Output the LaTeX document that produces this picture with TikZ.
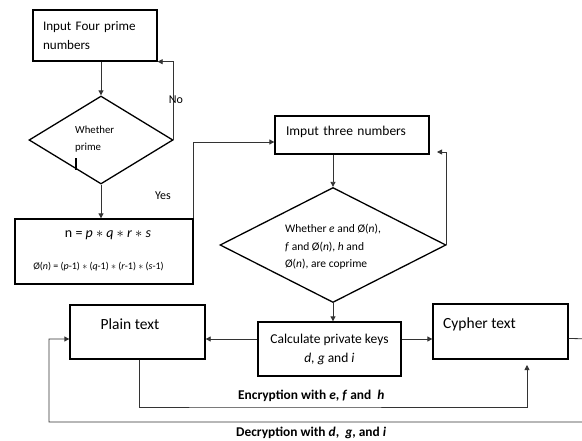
\documentclass[tikz,border=0pt]{standalone}
\usepackage{fontspec}
\setmainfont{Carlito}
\usetikzlibrary{arrows.meta}
\usetikzlibrary{shapes}
\usetikzlibrary{positioning}
\tikzstyle{process}=[rectangle,draw=black,line width=1.3pt,inner sep=0mm]
\tikzstyle{decision}=[diamond,draw=black,line width=1.3pt,inner sep=0mm]
\tikzstyle{flow}=[->,line width=0.8pt,draw=black!80]
\tikzstyle{note}=[inner sep=0mm,font=\fontsize{12}{17}\selectfont]
\tikzset{every picture/.style={
    line join=miter
  }
}

\begin{document}
\begin{tikzpicture}[x=1pt, y=-1pt, >={Triangle[length=5pt,width=5pt]}]
    \clip (0,0) rectangle (582,440);
    % top left: the four primes
    \node[process, minimum width=124pt, minimum height=51pt, text width=104pt, align=left,
          font=\fontsize{13.1}{19}\selectfont] at (95,35.5) (primes) {Input Four prime\\numbers};
    \node[decision, minimum width=144pt, minimum height=88pt] at (101,140) (isprime) {};
    \node[note, anchor=west, align=left, font=\fontsize{10.8}{17}\selectfont] at (75,139) (isprimetxt) {Whether\\prime};
    \draw[line width=1.3pt] (76,158) -- (76,170);
    \node[process, minimum width=178pt, minimum height=65pt] at (104,251.5) (nbox) {};
    \node[font=\fontsize{14}{16}\selectfont, inner sep=0mm] at (108,235) (ntxt) {n = \textit{p} $*$ \textit{q} $*$ \textit{r} $*$ \textit{s}};
    \node[font=\fontsize{10}{12}\selectfont, inner sep=0mm] at (98.5,267) (phitxt) {Ø(\textit{n}) = (\textit{p}-1) $*$ (\textit{q}-1) $*$ (\textit{r}-1) $*$ (\textit{s}-1)};
    \draw[flow] (isprime.north |- primes.south) -- (isprime.north);
    \draw[flow] (isprime.east) |- (primes.south east);
    \node[note] at (176,100) (no) {No};
    \draw[flow] (isprime.south) -- (isprime.south |- nbox.north);
    \node[note] at (163,196) (yes) {Yes};

    % right: the three numbers
    \node[process, minimum width=154pt, minimum height=38pt, text width=132pt, align=left,
          font=\fontsize{13.5}{16}\selectfont] at (352,135) (three) {Imput three numbers\vphantom{y}\\[-8pt]\mbox{}};
    \draw[flow] (nbox.north east) |- ([yshift=-7pt]three.west);
    \node[decision, minimum width=226pt, minimum height=115pt] at (333,245) (coprime) {};
    \node[note, align=left, font=\fontsize{11.5}{17.5}\selectfont] at (333,247) (coprimetxt) {Whether \textit{e} and Ø(\textit{n}),\\\textit{f} and Ø(\textit{n}), \textit{h} and\\Ø(\textit{n}), are coprime};
    \draw[flow] (coprime.north |- three.south) -- (coprime.north);
    \coordinate (back) at (437,152);
    \draw[flow] (coprime.east) |- (back);

    % bottom row
    \node[process, minimum width=143pt, minimum height=54pt, align=center,
          font=\fontsize{13.5}{19}\selectfont] at (329.5,349) (keys) {Calculate private keys\\\textit{d, g} and \textit{i}};
    \node[process, minimum width=135pt, minimum height=54pt] at (137.5,332) (plain) {};
    \node[font=\fontsize{15.5}{18}\selectfont, inner sep=0mm] at (130,324) (plaintxt) {Plain text};
    \node[process, minimum width=135pt, minimum height=55pt] at (500.5,331.5) (cypher) {};
    \node[font=\fontsize{15.5}{18}\selectfont, inner sep=0mm, anchor=west] at (443,324) (cyphertxt) {Cypher text};
    \draw[flow] (coprime.south) -- (coprime.south |- keys.north);
    \draw[flow] ([yshift=10pt]keys.west) -- ([yshift=10pt]keys.west -| plain.east);
    \draw[flow] ([yshift=10pt]keys.east) -- ([yshift=10pt]keys.east -| cypher.west);

    % encryption and decryption paths
    \coordinate (enc) at (527,365);
    \draw[flow] (plain.south -| 139,0) |- (238,407) -- (527,407) -- (enc);
    \node[font=\bfseries\fontsize{13.4}{15}\selectfont, inner sep=0mm, anchor=west] at (238,396) (enctxt)
      {Encryption with \textit{e}, \textit{f} and ~\textit{h}};
    \draw[flow] ([yshift=-7pt]cypher.east) -- (600,339) -- (600,422) -| (49,339) -- ([yshift=-7pt]plain.west);
    \node[font=\bfseries\fontsize{13.4}{15}\selectfont, inner sep=0mm, anchor=west] at (236,433) (dectxt)
      {Decryption with \textit{d}, ~\textit{g}, and \textit{i}};
  \end{tikzpicture}
\end{document}
